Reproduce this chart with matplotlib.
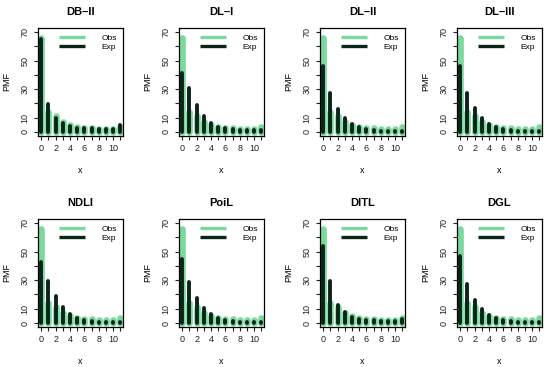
import matplotlib
matplotlib.use("Agg")
import matplotlib.pyplot as plt
import numpy as np

plt.rcParams['font.family'] = ['Liberation Sans', 'DejaVu Sans']

# observed frequencies (%), same in every panel
x_vals = list(range(12))
obs = [65.5, 14, 11, 7, 5, 3.2, 3, 3, 2.2, 2, 2, 3.5]

# expected frequencies per fitted model
models = ["DB\u2013II", "DL\u2013I", "DL\u2013II", "DL\u2013III",
          "NDLI", "PoiL", "DITL", "DGL"]
exp_db2 = [65, 19.6, 10, 6.2, 4, 3, 2.8, 2.5, 2, 2, 2, 4.6]
exp_dl1 = [41, 30.5, 19, 11, 6.3, 3.5, 2.5, 2, 1.5, 1.3, 1.2, 1.2]
exp_dl2 = [46, 27.4, 16.2, 9.8, 5.8, 3.5, 2.2, 1.5, 1, 1, 0.8, 0.8]
exp_dl3 = [46, 27.5, 16.5, 9.5, 5.5, 3.3, 2.1, 1.5, 1, 1, 0.8, 0.8]
exp_ndli = [42.5, 29.6, 18.7, 11, 6.3, 3.7, 2.2, 1.5, 1, 0.9, 0.8, 0.8]
exp_poil = [45, 28.7, 17.5, 10.5, 6, 3.5, 2.2, 1.5, 1, 0.9, 0.8, 0.8]
exp_ditl = [53.7, 29.2, 12.8, 7.5, 4.2, 2.8, 2.2, 1.8, 1.5, 1.5, 1.5, 2.5]
exp_dgl = [47, 27.5, 16.3, 10, 5.8, 3.5, 2.2, 1.5, 1, 1, 0.8, 0.8]
exp_all = [exp_db2, exp_dl1, exp_dl2, exp_dl3, exp_ndli, exp_poil, exp_ditl, exp_dgl]

OBS_COL = "#7bd99e"
EXP_COL = "#0a2418"

W, H = 550, 367
fig = plt.figure(figsize=(5.5, 3.67), dpi=100)

lefts = [38, 179, 320, 457]
tops = [28, 219]
aw, ah = 85, 108

for k, (name, ev) in enumerate(zip(models, exp_all)):
    r, c = divmod(k, 4)
    ax = fig.add_axes([lefts[c] / W, 1 - (tops[r] + ah) / H, aw / W, ah / H])
    ax.vlines(x_vals, 0, obs, color=OBS_COL, lw=4.8, capstyle='round', label='Obs')
    ax.vlines(x_vals, 0, ev, color=EXP_COL, lw=2.8, capstyle='round', label='Exp')
    ax.set_xlim(-0.44, 11.35)
    ax.set_ylim(-2.8, 72.8)
    ax.set_yticks(range(0, 71, 10))
    ax.set_yticklabels(['0', '10', '', '30', '', '50', '', '70'], rotation=90, va='center')
    ax.set_xticks(x_vals)
    ax.set_xticklabels([str(v) if v % 2 == 0 and v <= 10 else '' for v in x_vals])
    ax.tick_params(labelsize=6.5, length=3, width=0.8, direction='out', pad=3, colors='#222222')
    for s in ax.spines.values():
        s.set_linewidth(0.9)
    ax.set_title(name, fontsize=8, fontweight='bold', pad=9)
    ax.set_xlabel('x', fontsize=6.5, labelpad=9)
    ax.set_ylabel('PMF', fontsize=6.5, labelpad=7)
    leg = ax.legend(loc='upper right', frameon=False, fontsize=6, handlelength=3.1,
                    handletextpad=2.0, borderaxespad=0.3, labelspacing=0.15)
    for h in leg.legend_handles:
        h.set_linewidth(2.4)
        h.set_solid_capstyle('butt')

fig.savefig("out.png", dpi=100)
